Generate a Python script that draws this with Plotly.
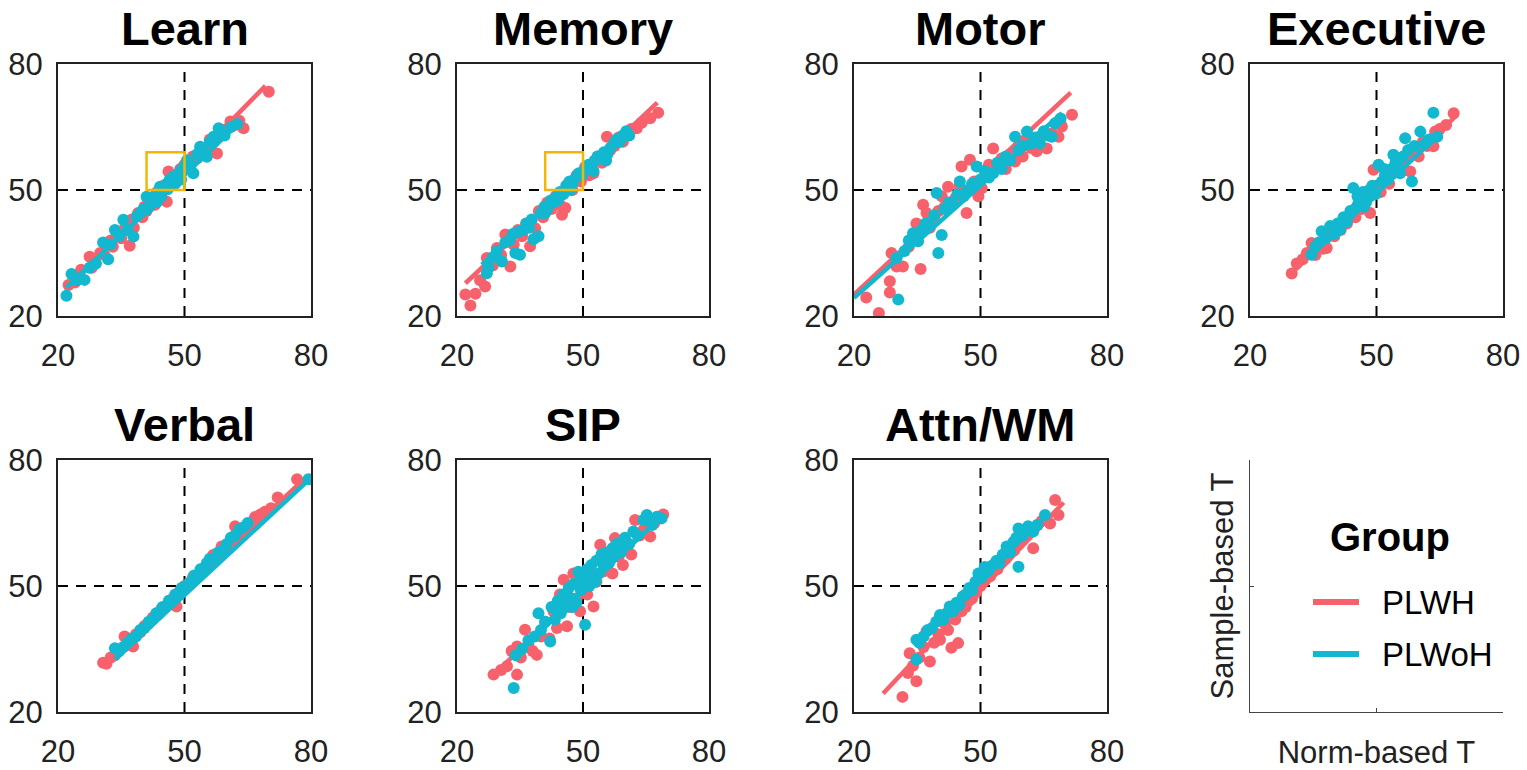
import plotly.graph_objects as go

# panel titles
panels = ['Learn', 'Memory', 'Motor', 'Executive', 'Verbal', 'SIP', 'Attn/WM']
groups = ['PLWH', 'PLWoH']
tick_vals = [20, 50, 80]

# ---- points (norm-based T, sample-based T) ----
learn_plwh_x = [22.5, 24, 25.5, 27.5, 28, 30, 31, 32.5, 33, 34, 35, 36, 37, 37.5, 38, 39, 40, 40.5, 41, 42, 43, 43.5, 44, 45,
                45.8, 46.2, 47, 48, 49, 50, 51, 52, 53, 54, 55, 56, 57, 57.7, 58.5, 60, 60.9, 62, 63, 64, 70]
learn_plwh_y = [27.4, 28, 31, 34.1, 31.5, 35, 34.5, 38, 36.5, 40, 38.5, 41.5, 36.7, 43, 41, 44.5, 43.5, 46, 45, 47.5, 46.5, 49.5,
                48, 51, 47.2, 54.4, 52.5, 52, 55, 56, 55.5, 58, 57.5, 60, 59.5, 62, 61.5, 58.7, 63, 64.5, 66.3, 65.5, 66.5, 64.7, 73.4]
learn_plwoh_x = [22, 23.2, 24.5, 26.3, 27.5, 29, 30.7, 31.9, 32.5, 33.5, 34.5, 35.5, 36.5, 37.9, 38.7, 39.5, 40.3, 41, 41.7, 42.5,
                 43.2, 44.2, 45, 45.8, 46.5, 47.4, 48.2, 49, 49.8, 50.6, 51.5, 52.1, 53, 53.7, 54.5, 55.3, 56, 56.9, 58.1, 59.5,
                 61, 62.5, 44.5, 46, 47.8, 49.2, 43.5, 40.8]
learn_plwoh_y = [24.8, 30, 28.5, 28.6, 31.5, 32.5, 37.5, 33.5, 37, 40.5, 39, 42.9, 40.5, 38.9, 43.7, 44.5, 45.5, 48.4, 46, 47.5,
                 49, 50.8, 50, 51.5, 52.5, 53.2, 53.5, 54.5, 55.5, 57.1, 56, 54, 58.5, 60.3, 59, 57.9, 61.5, 62.7, 64.7, 63,
                 65, 65.7, 48.5, 50.2, 51.5, 52.5, 47.2, 45.2]

memory_plwh_x = [22, 23.2, 24.4, 25.5, 26.7, 27.1, 28.5, 29.5, 30.5, 31.5, 32.7, 33.5, 34.5, 35.5, 36.5, 37.4, 38.6, 39.5, 40.5,
                 41.5, 42.5, 43.5, 44.5, 45, 45.8, 46.5, 47.5, 48.5, 49.5, 50.5, 51.5, 52.5, 53.5, 54.5, 55.7, 56.5, 57.5,
                 58.5, 59.5, 60.5, 61.5, 62.8, 64, 66, 67.9]
memory_plwh_y = [25.1, 22.5, 25.3, 28.5, 27, 33.8, 32, 36.2, 34.5, 39.4, 31.8, 37, 40.5, 39, 42, 36.6, 40.9, 45, 43.5,
                 47, 45.5, 48.5, 46.5, 44.1, 45.7, 51.5, 50, 53.5, 52, 55.5, 53.5, 54, 58, 56.5, 62.7, 59.5, 60.5,
                 62.5, 61.5, 63.5, 64.5, 64.7, 66, 67.1, 68.4]
memory_plwoh_x = [27.1, 27.5, 28.5, 29.5, 30.7, 31.5, 32.5, 33.3, 33.9, 35, 35.8, 36.5, 37.2, 38.2, 39.4, 40, 40.8, 41.5, 42.3,
                  43, 43.8, 44.5, 45.3, 46, 46.8, 47.5, 48.3, 49, 49.8, 50.5, 51.3, 52, 52.8, 53.5, 54.3, 55, 55.8, 56.5,
                  57.3, 58, 58.8, 59.5, 60.3, 61, 34.5, 37.8, 41, 44, 47, 52.5, 55.5]
memory_plwoh_y = [30.2, 31.5, 34, 35.5, 33, 37.5, 38, 39.5, 35, 34.6, 40.5, 42, 41, 38.3, 39, 44.5, 46, 45.5, 47.5,
                  47, 48.5, 49.5, 49, 51, 52, 51.5, 53, 54, 53.5, 55, 56, 55.5, 57, 58, 57.5, 59, 58.5, 60,
                  61, 62, 61.5, 63, 64, 63, 40, 43, 44.5, 47.5, 50, 54.5, 57]

motor_plwh_x = [22.9, 25.9, 28.5, 28.5, 28.9, 30.1, 31.6, 33, 34.8, 35.8, 36.4, 37.2, 38, 39, 40, 40.8, 41.5, 42.3, 43, 44, 45,
                45.5, 46.7, 47.5, 48.5, 49.5, 50.3, 51, 52, 53, 54, 55, 56, 57, 58.2, 59, 60, 61, 62, 63.3, 64.5, 65.7, 67,
                68.5, 69.3, 71.7]
motor_plwh_y = [24.4, 20.7, 28.3, 25.6, 35, 31.8, 31.8, 36.5, 42, 31.2, 46.5, 44.5, 41, 43.5, 45, 48.5, 46, 50.8, 47, 48, 51,
                55.6, 44.5, 57.2, 52, 48.5, 50.4, 54.5, 56, 59.9, 55.5, 57.5, 55, 58.5, 56.8, 60.5, 58, 61.5, 60, 59.2, 63, 59.9,
                63.5, 62.7, 65.1, 67.9]
motor_plwoh_x = [30.1, 30.5, 32, 33, 34, 35.2, 36, 37, 38, 39, 39.6, 40, 40.8, 41.5, 42.5, 43.5, 44.5, 45.1, 46, 47, 48, 49.1,
                 50, 51, 52, 53, 54, 55, 56, 57, 58.2, 59, 60, 61, 62, 63, 64.1, 65, 66, 66.9, 67.7, 69]
motor_plwoh_y = [33.8, 23.9, 35.5, 38, 39.7, 37.8, 40.5, 42, 41.5, 44, 49.3, 35, 39.3, 45.5, 47, 46.5, 49, 52, 48.5, 50, 51.5,
                 55.6, 52.5, 54.5, 53, 54, 56.5, 55, 58, 57, 62.7, 59.5, 60.5, 63.9, 61, 62.5, 61.1, 64, 63, 62.7, 65.9, 67]

executive_plwh_x = [29.9, 31.1, 32.5, 33.5, 34.6, 35.5, 36.5, 37.3, 38.2, 39, 40, 40.8, 41.5, 42.3, 43, 44, 45, 45.8, 46.5,
                    47.5, 48.5, 49.3, 50, 51, 52, 53, 54, 55, 56, 57, 58, 59, 60, 61, 62, 63.5, 63.9, 65, 66.5, 68.3]
executive_plwh_y = [30.1, 32.5, 33.5, 35, 37.4, 34.5, 37.5, 36, 36.2, 40, 39, 41.5, 40.5, 43, 42, 45, 43.5, 47, 45.5,
                    48.5, 44.5, 54.8, 50, 49.5, 52.5, 51.5, 54, 55.5, 54.5, 57.5, 54.4, 59, 58, 61.5, 60.5, 60.4, 63.9, 64.5,
                    65.5, 68.3]
executive_plwoh_x = [34.6, 35.5, 36.3, 37, 38, 39, 40, 40.8, 41.4, 42.2, 43, 43.8, 44.5, 45.3, 46, 46.8, 47.5, 48.3, 49, 49.7,
                     50.5, 51.3, 52, 52.8, 53.5, 54, 55, 55.6, 56.3, 56.8, 57.5, 58.4, 59, 60.4, 61.5, 62.5, 63.5, 64.4,
                     45.5, 47, 48.5, 51.8, 54.5]
executive_plwoh_y = [34.6, 36.5, 37.5, 40.2, 38.5, 41.4, 39.5, 42, 40.6, 43.5, 42.5, 45, 50.5, 46, 48, 49.5, 47, 50, 51, 49,
                     56, 52, 53.5, 52.5, 55, 58.4, 56.5, 54, 58, 62.3, 59.5, 52, 60.5, 63.9, 61, 62, 68.4, 62.7,
                     48.5, 46, 48.5, 55, 56.5]

verbal_plwh_x = [30.7, 31.5, 32.5, 33.5, 34.5, 35.8, 36.5, 37.8, 38.5, 39.5, 40.5, 41.5, 42.5, 43.5, 44.5, 45.5, 46.5, 47.3,
                 48.1, 49, 50, 51, 52, 53, 54, 55, 56, 56.8, 57.5, 58.8, 59.5, 60.5, 61.2, 62, 63, 64, 65, 66.7, 68, 69.1,
                 70.5, 72.1, 76.7]
verbal_plwh_y = [31.7, 31.5, 33, 33.5, 34.5, 38, 36, 35.6, 38.5, 39, 40.5, 41, 42.5, 43, 44.5, 45, 46.5, 47,
                 45.1, 49, 50, 50.5, 52, 52.5, 54, 54.5, 55.5, 57.4, 56.5, 59.4, 58.5, 60, 61.5, 64.2, 63.5, 63, 64.5, 66.4,
                 67, 67.7, 68.5, 71.1, 75.4]
verbal_plwoh_x = [33.5, 34.5, 35.5, 36.5, 37.5, 38.5, 39.5, 40.5, 41.5, 42.5, 43.3, 44, 44.8, 45.5, 46.3, 47, 47.8, 48.5,
                  49.3, 50, 50.8, 51.5, 52.3, 53, 53.8, 54.5, 55.3, 56, 57, 58, 59, 60, 61, 62, 63, 64, 65, 79.4]
verbal_plwoh_y = [35.2, 34.5, 35.5, 36.5, 37.5, 38, 39.5, 40, 41.5, 42, 43.5, 43.5, 45, 45, 46.5, 46.5, 48, 48,
                  49.5, 49.5, 50.5, 51, 52.5, 52, 54, 54, 55.5, 56.5, 56.5, 58, 58.5, 60, 61.5, 62, 63.5, 64, 65, 75.4]

sip_plwh_x = [28.7, 30.5, 31.9, 33, 34.3, 34.3, 35.2, 36.2, 37, 38, 39, 40, 41, 42, 43, 43.8, 44.5, 45.4, 46.2, 47, 47.7,
              48.5, 49.3, 50, 51, 52, 52.5, 53.2, 54.1, 55, 56, 57, 57.6, 58.5, 59.5, 60.5, 61.5, 62.4, 63.5, 64.5, 66, 67,
              69.1]
sip_plwh_y = [28.9, 30, 30.9, 34.5, 28.9, 35.6, 33, 39.6, 36, 34.5, 33.6, 38, 41.5, 37.5, 44, 40, 48, 51.5, 40.4, 45, 53,
              47, 44, 50.5, 48, 53, 45.1, 51, 59.8, 53.5, 56.5, 53, 61.4, 57, 55, 59.5, 57.5, 65.7, 62, 63.5, 61.8, 65,
              67]
sip_plwoh_x = [33.5, 34, 35.5, 37, 38.5, 39.4, 40, 41, 42.2, 42.5, 43.3, 44, 44.7, 45.3, 46, 46.6, 47.2, 47.8, 48.4, 48.9,
               49.5, 50, 50.5, 51, 51.5, 52, 52.6, 53.2, 53.8, 54.4, 55, 55.6, 56.2, 57.2, 58, 59, 60, 61, 62, 63, 64.4,
               65.2, 66.5, 67.6, 68.7, 44, 45.8, 47.5, 49.5, 51.2, 53, 55, 57, 59.5]
sip_plwoh_y = [25.7, 33.5, 35, 37, 38, 43.5, 39.5, 41.5, 36.8, 45, 42, 46.5, 43.5, 48, 45, 49.5, 47, 50.5, 46, 53.4,
               49, 51.5, 40.8, 54, 50, 55, 52, 56, 53, 57.5, 54.5, 58, 55.5, 57, 60, 58, 61.5, 60, 63, 62, 65.7,
               66.9, 64.5, 66.5, 66.1, 44, 46.5, 45, 52, 52.5, 51, 56, 59, 60.5]

attn_plwh_x = [31.5, 32.8, 33.2, 34, 34.8, 35.5, 36.5, 37.2, 38, 39, 40, 40.4, 41.5, 42.3, 43.1, 44, 44.7, 45.5, 46.5, 47.3,
               48, 49, 50, 50.8, 51.5, 52.3, 53, 54, 55, 56, 57, 58, 59, 60, 61, 62.5, 63.5, 64.5, 66.5, 67.7, 68.5]
attn_plwh_y = [23.6, 29.3, 34, 31, 27.3, 33, 35.5, 39.2, 32, 36.5, 38.5, 37.2, 41, 39.5, 35.3, 42, 36.4, 44, 45, 46.5,
               47, 48.5, 50, 51, 52, 52.3, 53.5, 54, 56, 56.5, 58, 58.5, 60, 61, 62, 59, 64.5, 65.5, 64.9, 70.5, 66.9]
attn_plwoh_x = [34.8, 34.8, 35.5, 36.5, 37.5, 38.5, 39.5, 40.4, 41.2, 42, 42.7, 43.5, 44.3, 45, 45.8, 46.5, 47.3, 48, 48.8,
                49.5, 50.3, 51, 51.8, 52.3, 53, 53.8, 54.5, 55.3, 56.2, 57, 57.8, 58.5, 59, 59, 60, 61.3, 62.5, 63.5, 65.3]
attn_plwoh_y = [32.5, 37.2, 36.5, 38, 39.5, 40, 41.5, 43.1, 42, 43.5, 45.1, 44, 46, 45.5, 47.5, 48, 49.5, 49, 51,
                53, 52, 54.5, 53.5, 54.6, 55, 56, 55.5, 57.5, 59.4, 58, 60.5, 61.5, 63.7, 54.6, 62, 64.2, 63, 64.5, 66.9]

# fitted line ends as drawn in the picture, one pair per panel
fit_plwh_x = [[22.4, 69.2], [22, 67.7], [20, 71.4], [29.9, 69.1], [30.7, 79.4], [28.7, 69.1], [26.9, 69.7]]
fit_plwh_y = [[27, 74.8], [27.8, 70.8], [25.1, 73.2], [30.2, 67.9], [30.9, 76.4], [28.9, 67], [24.4, 69.9]]
fit_plwoh_x = [[22, 62.9], [25.9, 60.8], [20, 69.3], [34.6, 64.7], [33.5, 79.4], [33.9, 68.7], [34.4, 65.7]]
fit_plwoh_y = [[26.8, 65.9], [32.2, 63.9], [24.3, 68.3], [34.6, 63.1], [32.5, 75.2], [33.6, 66.6], [36.8, 66.9]]

# highlighted region in Learn and Memory
box_x = [41, 50]
box_y = [50, 59]

points = [
    (learn_plwh_x, learn_plwh_y, learn_plwoh_x, learn_plwoh_y),
    (memory_plwh_x, memory_plwh_y, memory_plwoh_x, memory_plwoh_y),
    (motor_plwh_x, motor_plwh_y, motor_plwoh_x, motor_plwoh_y),
    (executive_plwh_x, executive_plwh_y, executive_plwoh_x, executive_plwoh_y),
    (verbal_plwh_x, verbal_plwh_y, verbal_plwoh_x, verbal_plwoh_y),
    (sip_plwh_x, sip_plwh_y, sip_plwoh_x, sip_plwoh_y),
    (attn_plwh_x, attn_plwh_y, attn_plwoh_x, attn_plwoh_y),
]

RED = '#F7616C'
CYAN = '#12B8D0'
FONT = 'Liberation Sans, Arial, sans-serif'
W, H = 1527, 770

col_px = [(58, 311), (457, 709), (854, 1107), (1250, 1503)]
row_px = [(64, 316), (460, 712)]


def xdom(c):
    return [col_px[c][0] / W, col_px[c][1] / W]


def ydom(r):
    return [1 - row_px[r][1] / H, 1 - row_px[r][0] / H]


fig = go.Figure()
layout = dict(template='none', width=W, height=H, margin=dict(l=0, r=0, t=0, b=0, pad=0), autosize=False,
              showlegend=False, paper_bgcolor='white', plot_bgcolor='white',
              font=dict(family=FONT, color='#222222'))
shapes = []
annotations = []

for i, name in enumerate(panels):
    r, c = divmod(i, 4)
    n = i + 1
    xa, ya = f'x{n}', f'y{n}'
    rx, ry, cx, cy = points[i]

    fig.add_trace(go.Scatter(x=rx, y=ry, mode='markers', xaxis=xa, yaxis=ya,
                             marker=dict(color=RED, size=12, line=dict(width=0))))
    fig.add_trace(go.Scatter(x=fit_plwh_x[i], y=fit_plwh_y[i], mode='lines', xaxis=xa, yaxis=ya,
                             name=groups[0], line=dict(color=RED, width=4.5)))
    fig.add_trace(go.Scatter(x=cx, y=cy, mode='markers', xaxis=xa, yaxis=ya,
                             marker=dict(color=CYAN, size=12, line=dict(width=0))))
    fig.add_trace(go.Scatter(x=fit_plwoh_x[i], y=fit_plwoh_y[i], mode='lines', xaxis=xa, yaxis=ya,
                             name=groups[1], line=dict(color=CYAN, width=4.5)))

    ax = dict(range=[20, 80], tickvals=tick_vals, showgrid=False, zeroline=False, showline=True, mirror=True,
              automargin=False, linecolor='#222222', linewidth=2, ticks='',
              tickfont=dict(size=31, color='#222222', family=FONT))
    layout['xaxis' if n == 1 else f'xaxis{n}'] = dict(ax, domain=xdom(c), anchor=ya, ticklabelstandoff=11)
    layout['yaxis' if n == 1 else f'yaxis{n}'] = dict(ax, domain=ydom(r), anchor=xa, ticklabelstandoff=7)

    shapes.append(dict(type='line', xref=xa, yref=ya, x0=50, x1=50, y0=20, y1=80, layer='below',
                       line=dict(color='black', width=2, dash='10px,8px')))
    shapes.append(dict(type='line', xref=xa, yref=ya, x0=20, x1=80, y0=50, y1=50, layer='below',
                       line=dict(color='black', width=2, dash='10px,8px')))
    if name in ('Learn', 'Memory'):
        shapes.append(dict(type='rect', xref=xa, yref=ya, x0=box_x[0], x1=box_x[1], y0=box_y[0], y1=box_y[1],
                           line=dict(color='#F2B705', width=2.5), layer='above'))

    title_top = [0, 396][r]
    annotations.append(dict(text=f'<b>{name}</b>', x=sum(xdom(c)) / 2, y=1 - title_top / H,
                            xref='paper', yref='paper', showarrow=False, xanchor='center', yanchor='top',
                            font=dict(size=47, color='black', family=FONT)))

# last panel: axis key with labels only
key_ax = dict(range=[20, 80], tickvals=tick_vals, showticklabels=False, ticks='inside', ticklen=4,
              tickcolor='#444444', showgrid=False, zeroline=False, showline=True, linecolor='#444444',
              linewidth=1, automargin=False)
layout['xaxis8'] = dict(key_ax, domain=xdom(3), anchor='y8',
                        title=dict(text='Norm-based T', standoff=30, font=dict(size=31, color='#222222')))
layout['yaxis8'] = dict(key_ax, domain=ydom(1), anchor='x8',
                        title=dict(text='Sample-based T', standoff=6, font=dict(size=31, color='#222222')))
fig.add_trace(go.Scatter(x=[None], y=[None], xaxis='x8', yaxis='y8', hoverinfo='skip'))

# group key drawn in the empty panel
key_y = [602, 654]
annotations.append(dict(text='<b>Group</b>', x=1390 / W, y=1 - 537 / H, xref='paper', yref='paper',
                        showarrow=False, xanchor='center', yanchor='middle',
                        font=dict(size=40, color='black', family=FONT)))
for g, col, ky in zip(groups, [RED, CYAN], key_y):
    shapes.append(dict(type='line', xref='paper', yref='paper', x0=1313 / W, x1=1359 / W,
                       y0=1 - ky / H, y1=1 - ky / H, line=dict(color=col, width=6)))
    annotations.append(dict(text=g, x=1380 / W, y=1 - ky / H, xref='paper', yref='paper', showarrow=False,
                            xanchor='left', yanchor='middle', font=dict(size=33, color='black', family=FONT)))

fig.update_layout(**layout, shapes=shapes, annotations=annotations)

# page body margin removed so the figure sits at the window's top-left corner
fig.write_html("out.html", config={'displayModeBar': False},
               post_script="document.body.style.margin='0';document.body.style.overflow='hidden';")
